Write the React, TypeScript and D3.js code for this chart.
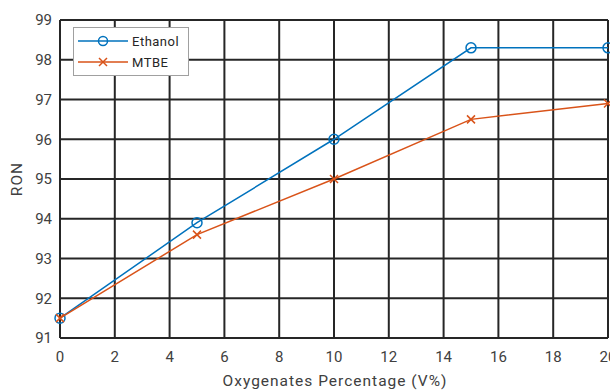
import * as d3 from "d3";
import React from "react";

const oxygenates = [0, 5, 10, 15, 20];
const ethanol = [91.5, 93.9, 96.0, 98.3, 98.3];
const mtbe = [91.5, 93.6, 95.0, 96.5, 96.9];
const xTicks = [0, 2, 4, 6, 8, 10, 12, 14, 16, 18, 20];
const yTicks = [91, 92, 93, 94, 95, 96, 97, 98, 99];

const width = 610;
const height = 390;
const margin = { top: 20, right: 2, bottom: 52, left: 60 };

const App: React.FC = () => {
  const x = d3
    .scaleLinear()
    .domain([0, 20])
    .range([margin.left, width - margin.right]);
  const y = d3
    .scaleLinear()
    .domain([91, 99])
    .range([height - margin.bottom, margin.top]);

  const line = d3
    .line<number>()
    .x((_, i) => x(oxygenates[i]))
    .y((d) => y(d));

  const font = "Roboto, 'Noto Sans', sans-serif";
  const blue = "#0072BD";
  const orange = "#D95319";
  const grid = "#262626";

  const cross = (cx: number, cy: number, key: string) => (
    <path
      key={key}
      d={`M${cx - 4},${cy - 4}L${cx + 4},${cy + 4}M${cx - 4},${cy + 4}L${cx + 4},${cy - 4}`}
      stroke={orange}
      strokeWidth={1.5}
    />
  );

  return (
    <svg
      width={width}
      height={height}
      style={{ position: "absolute", left: 0, top: 0, background: "#fff" }}
      fontFamily={font}
    >
      {/* grid */}
      <g stroke={grid} strokeWidth={2}>
        {xTicks.map((t) => (
          <line key={`gx${t}`} x1={x(t)} x2={x(t)} y1={y(91)} y2={y(99)} />
        ))}
        {yTicks.map((t) => (
          <line key={`gy${t}`} x1={x(0)} x2={x(20)} y1={y(t)} y2={y(t)} />
        ))}
      </g>

      {/* tick labels */}
      <g fontSize={15} fill="#404040">
        {yTicks.map((t) => (
          <text key={`ty${t}`} x={x(0) - 8} y={y(t)} dy="0.35em" textAnchor="end">
            {t}
          </text>
        ))}
        {xTicks.map((t) => (
          <text key={`tx${t}`} x={x(t)} y={y(91) + 19} dy="0.35em" textAnchor="middle">
            {t}
          </text>
        ))}
      </g>

      <text
        x={335}
        y={386}
        textAnchor="middle"
        fontSize={15.5}
        fill="#404040"
        letterSpacing={1}
      >
        Oxygenates Percentage (V%)
      </text>
      <text
        transform={`translate(22,${(y(91) + y(99)) / 2}) rotate(-90)`}
        textAnchor="middle"
        fontSize={15.5}
        fill="#404040"
        letterSpacing={1}
      >
        RON
      </text>

      {/* series */}
      <path d={line(ethanol)!} fill="none" stroke={blue} strokeWidth={1.5} />
      {ethanol.map((d, i) => (
        <circle
          key={`e${i}`}
          cx={x(oxygenates[i])}
          cy={y(d)}
          r={5}
          fill="none"
          stroke={blue}
          strokeWidth={1.5}
        />
      ))}
      <path d={line(mtbe)!} fill="none" stroke={orange} strokeWidth={1.5} />
      {mtbe.map((d, i) => cross(x(oxygenates[i]), y(d), `m${i}`))}

      {/* legend */}
      <g>
        <rect x={73.5} y={27.5} width={115} height={48} fill="#fff" stroke="#a0a0a0" strokeWidth={1} />
        <line x1={78} x2={128} y1={41} y2={41} stroke={blue} strokeWidth={1.5} />
        <circle cx={103} cy={41} r={4.5} fill="none" stroke={blue} strokeWidth={1.5} />
        <text x={132} y={41} dy="0.35em" fontSize={13} fill="#262626" letterSpacing={0.5}>
          Ethanol
        </text>
        <line x1={78} x2={128} y1={62} y2={62} stroke={orange} strokeWidth={1.5} />
        {cross(103, 62, "legend-x")}
        <text x={132} y={62} dy="0.35em" fontSize={13} fill="#262626" letterSpacing={0.5}>
          MTBE
        </text>
      </g>
    </svg>
  );
};

export default App;
